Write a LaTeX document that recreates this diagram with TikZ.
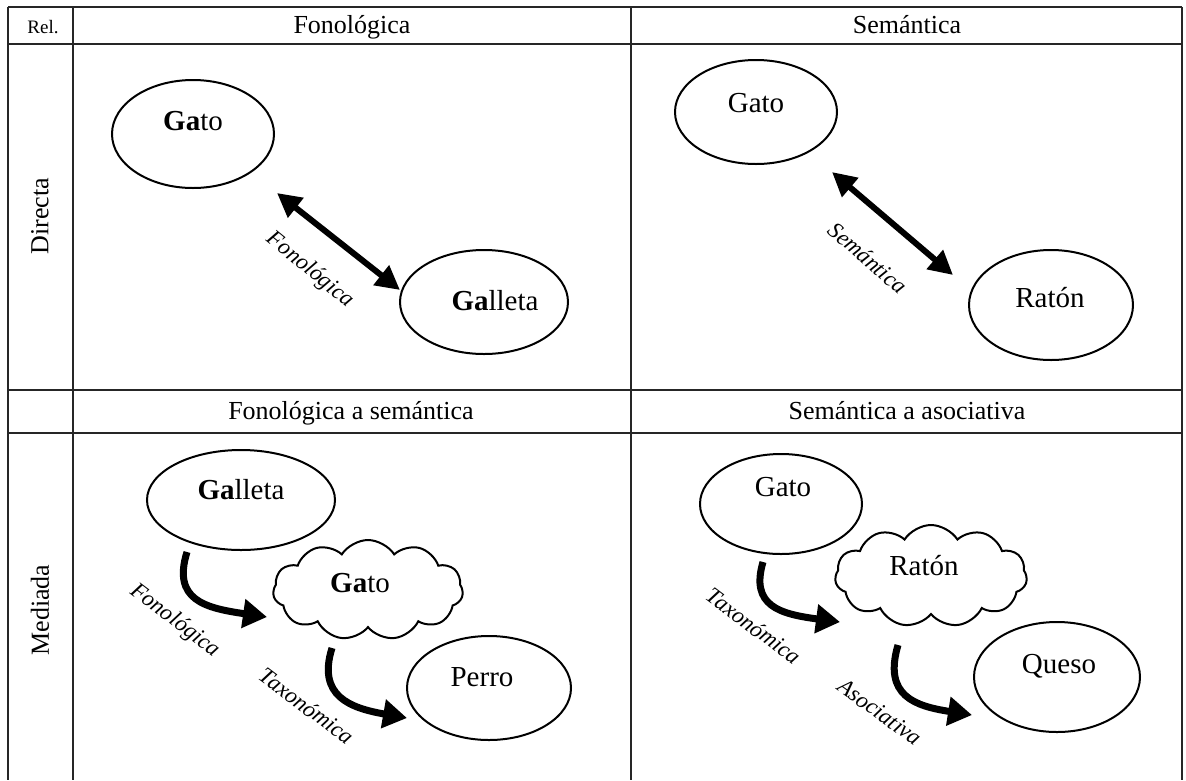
\documentclass[tikz,border=0pt]{standalone}
\usepackage{fontspec}
\setmainfont{Liberation Serif}
\usetikzlibrary{shapes.geometric,shapes.symbols,arrows.meta,calc}
\begin{document}
\begin{tikzpicture}[x=1pt,y=-1pt,
 grid/.style={line width=1.8pt, draw=black!85},
 oval/.style={draw, ellipse, line width=2pt, inner sep=0pt},
 puff/.style={draw, cloud, cloud puffs=11, cloud puff arc=115, aspect=1.9, line width=2pt, inner sep=0pt},
 word/.style={font=\fontsize{29}{31}\selectfont, inner sep=0pt, anchor=base},
 head/.style={font=\fontsize{26}{28}\selectfont, inner sep=0pt, anchor=base},
 rel/.style={font=\itshape\fontsize{23}{25}\selectfont, inner sep=0pt},
 dbl/.style={line width=6pt, {Triangle[length=24pt,width=24pt]}-{Triangle[length=24pt,width=24pt]}},
 curv/.style={line width=7pt, -{Triangle[length=24pt,width=28pt]}},
]
\useasboundingbox (0,0) rectangle (1186,780);
% table
\draw[grid] (8,7) -- (1182,7);
\draw[grid] (8,44) -- (1182,44);
\draw[grid] (8,390) -- (1182,390);
\draw[grid] (8,433) -- (1182,433);
\draw[grid] (8,7) -- (8,780);
\draw[grid] (73,7) -- (73,780);
\draw[grid] (631,7) -- (631,780);
\draw[grid] (1182,7) -- (1182,780);
% headers
\node[head, font=\fontsize{19}{21}\selectfont] (hrel) at (43,33) {Rel.};
\node[head] (hfon) at (352,33) {Fonológica};
\node[head] (hsem) at (907,33) {Semántica};
\node[head] (hfs) at (351,419) {Fonológica a semántica};
\node[head] (hsa) at (907,419) {Semántica a asociativa};
\node[head, anchor=center, rotate=90] (hdir) at (40,216) {Directa};
\node[head, anchor=center, rotate=90] (hmed) at (40,610) {Mediada};
% top-left
\node[oval, minimum width=162pt, minimum height=108pt] (a1) at (193,134) {};
\node[word] (a1t) at (193,130) {\textbf{Ga}to};
\node[oval, minimum width=168pt, minimum height=104pt] (a2) at (484,302) {};
\node[word] (a2t) at (495,310) {\textbf{Ga}lleta};
\coordinate (a1e) at (277,193);
\coordinate (a2e) at (400,290);
\draw[dbl] (a1e) -- (a2e);
\node[rel, rotate=-39] (a12) at (310,270) {Fonológica};
% top-right
\node[oval, minimum width=162pt, minimum height=104pt] (b1) at (756,112) {};
\node[word] (b1t) at (756,112) {Gato};
\node[oval, minimum width=164pt, minimum height=110pt] (b2) at (1051,305) {};
\node[word] (b2t) at (1050,307) {Ratón};
\coordinate (b1e) at (832,172);
\coordinate (b2e) at (953,275);
\draw[dbl] (b1e) -- (b2e);
\node[rel, rotate=-41] (b12) at (868,258) {Semántica};
% bottom-left
\node[oval, minimum width=188pt, minimum height=100pt] (c1) at (241,500) {};
\node[word] (c1t) at (241,499) {\textbf{Ga}lleta};
\node[puff, minimum width=190pt, minimum height=100pt] (c2) at (368,590) {};
\node[word] (c2t) at (360,592) {\textbf{Ga}to};
\node[oval, minimum width=164pt, minimum height=104pt] (c3) at (489,688) {};
\node[word] (c3t) at (482,686) {Perro};
\coordinate (c1s) at (187,552);
\coordinate (c2w) at (267,617);
\coordinate (c2s) at (332,648);
\coordinate (c3w) at (407,718);
\draw[curv] (c1s) .. controls (172,600) and (205,608) .. (c2w);
\draw[curv] (c2s) .. controls (317,696) and (350,708) .. (c3w);
\node[rel, rotate=-37] (c12) at (175,621) {Fonológica};
\node[rel, rotate=-37] (c23) at (307,706) {Taxonómica};
% bottom-right
\node[oval, minimum width=162pt, minimum height=100pt] (d1) at (781,504) {};
\node[word] (d1t) at (783,496) {Gato};
\node[puff, minimum width=192pt, minimum height=102pt] (d2) at (931,576) {};
\node[word] (d2t) at (924,575) {Ratón};
\node[oval, minimum width=166pt, minimum height=110pt] (d3) at (1057,677) {};
\node[word] (d3t) at (1059,673) {Queso};
\coordinate (d1s) at (763,562);
\coordinate (d2w) at (840,622);
\coordinate (d2s) at (898,645);
\coordinate (d3w) at (972,715);
\draw[curv] (d1s) .. controls (750,606) and (780,614) .. (d2w);
\draw[curv] (d2s) .. controls (883,696) and (915,706) .. (d3w);
\node[rel, rotate=-37] (d12) at (754,626) {Taxonómica};
\node[rel, rotate=-36] (d23) at (880,712) {Asociativa};
\end{tikzpicture}
\end{document}
